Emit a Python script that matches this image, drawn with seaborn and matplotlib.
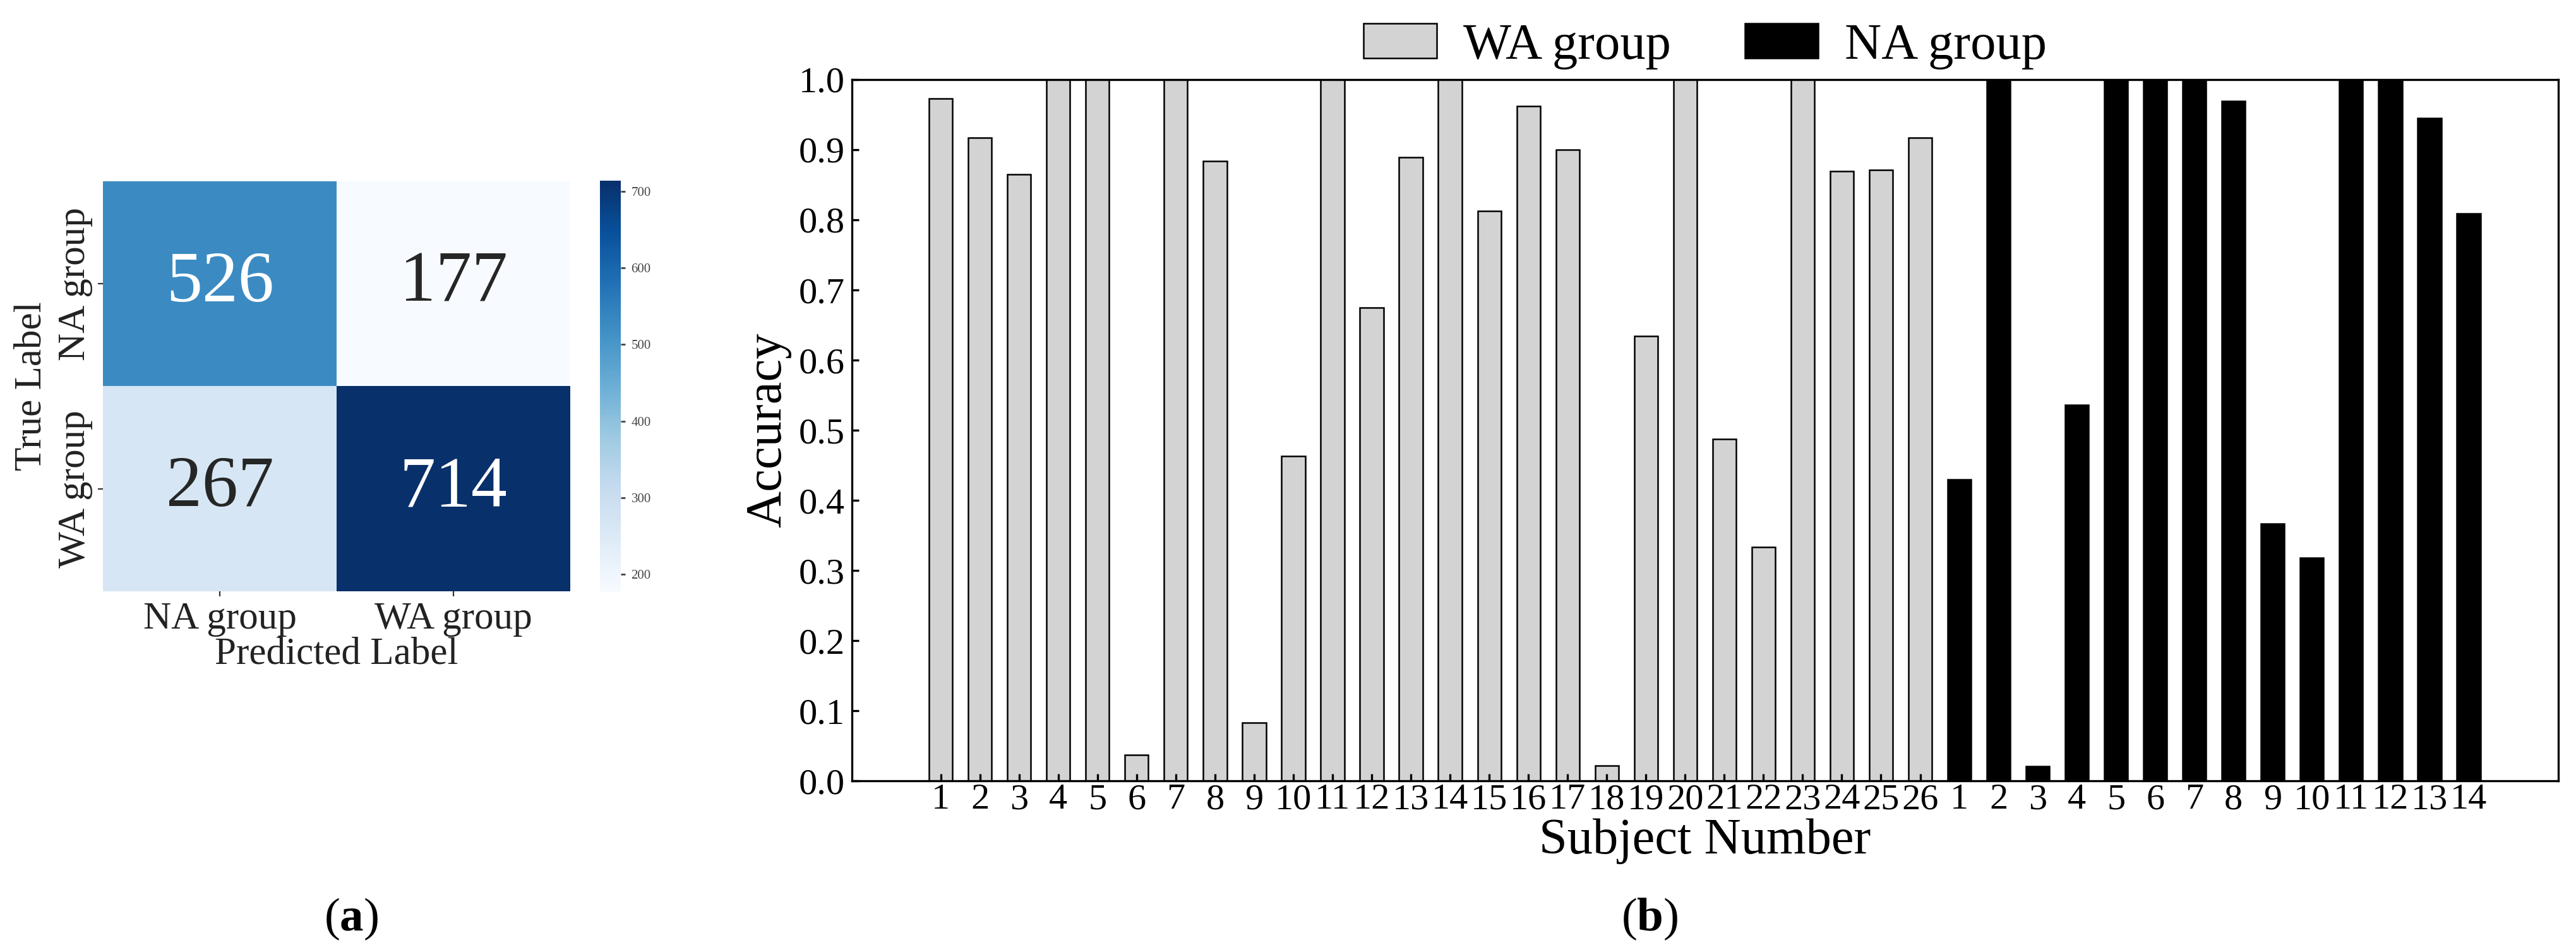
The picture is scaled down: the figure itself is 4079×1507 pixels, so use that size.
import numpy as np
import pandas as pd
import seaborn as sns
import matplotlib.pyplot as plt

plt.rcParams['font.family'] = ['Liberation Serif', 'DejaVu Serif']
plt.rcParams['mathtext.fontset'] = 'custom'
plt.rcParams['mathtext.rm'] = 'Liberation Serif'
plt.rcParams['mathtext.bf'] = 'Liberation Serif:bold'

# (a) confusion matrix
cm_labels = ['NA group', 'WA group']
cm_values = [[526, 177],
             [267, 714]]

# (b) accuracy per subject
wa_acc = [0.973, 0.917, 0.865, 1.0, 1.0, 0.037, 1.0, 0.884, 0.083, 0.463,
          1.0, 0.675, 0.889, 1.0, 0.813, 0.962, 0.900, 0.022, 0.634, 1.0,
          0.487, 0.333, 1.0, 0.869, 0.871, 0.917]
na_acc = [0.430, 1.0, 0.021, 0.536, 1.0, 1.0, 1.0, 0.969, 0.367, 0.318,
          1.0, 1.0, 0.945, 0.809]
group_names = ['WA group', 'NA group']
group_colors = {'WA group': 'lightgray', 'NA group': 'black'}
y_ticks = [0.0, 0.1, 0.2, 0.3, 0.4, 0.5, 0.6, 0.7, 0.8, 0.9, 1.0]

df = pd.DataFrame({
    'subject': [str(i + 1) for i in range(len(wa_acc))] + [str(i + 1) for i in range(len(na_acc))],
    'group': [group_names[0]] * len(wa_acc) + [group_names[1]] * len(na_acc),
    'acc': wa_acc + na_acc,
})
df['slot'] = df['group'] + ' ' + df['subject']

fig = plt.figure(figsize=(20.4, 7.535), dpi=200)

# ---- confusion matrix
ax1 = fig.add_axes([0.0400, 0.3789, 0.1813, 0.4307])
cax = fig.add_axes([0.2328, 0.3782, 0.0081, 0.4320])
cm = pd.DataFrame(cm_values, index=cm_labels, columns=cm_labels)
sns.heatmap(cm, annot=True, fmt='d', cmap='Blues', ax=ax1, cbar_ax=cax,
            annot_kws={'size': 41})
ax1.set_xticklabels(cm_labels, fontsize=22, color='#222222')
ax1.set_yticklabels(cm_labels, fontsize=22, rotation=90, va='center', color='#222222')
ax1.tick_params(length=3, width=0.8, pad=3, color='#333333')
ax1.set_xlabel('Predicted Label', fontsize=22, labelpad=0, color='#222222')
ax1.set_ylabel('True Label', fontsize=22, labelpad=5, color='#222222')
cax.tick_params(labelsize=7.5, length=2.5, width=1, colors='#444444')

# ---- accuracy bars
ax2 = fig.add_axes([0.3306, 0.1798, 0.6623, 0.7366])
sns.barplot(data=df, x='slot', y='acc', hue='group', order=df['slot'],
            palette=group_colors, hue_order=group_names, width=0.6,
            edgecolor='black', linewidth=0.9, saturation=1, dodge=False, ax=ax2)
ax2.set_xticks(range(len(df)))
ax2.set_xticklabels(df['subject'])
ax2.set_xlim(-2.27, 41.29)
ax2.set_ylim(0, 1.0)
ax2.set_yticks(y_ticks)
ax2.set_yticklabels([f'{v:.1f}' for v in y_ticks])
ax2.tick_params(axis='both', direction='in', length=4, width=1.2, labelsize=21, colors='black')
ax2.tick_params(axis='x', pad=1.5)
ax2.tick_params(axis='y', pad=4)
for sp in ax2.spines.values():
    sp.set_linewidth(1.2)
    sp.set_color('black')
ax2.set_xlabel('Subject Number', fontsize=29, labelpad=1)
ax2.set_ylabel('Accuracy', fontsize=29, labelpad=4)
sns.move_legend(ax2, 'lower center', bbox_to_anchor=(0.5, 1.0), ncol=2, frameon=False,
                title=None, fontsize=29, handlelength=1.44, handleheight=0.68,
                handletextpad=0.52, columnspacing=1.45, borderpad=0.2, borderaxespad=0)

fig.text(556 / 4080, 1 - 1455 / 1507, r'($\mathbf{a}$)', fontsize=27, ha='center', va='center')
fig.text(2612 / 4080, 1 - 1455 / 1507, r'($\mathbf{b}$)', fontsize=27, ha='center', va='center')

fig.savefig('out.png', dpi=200)
